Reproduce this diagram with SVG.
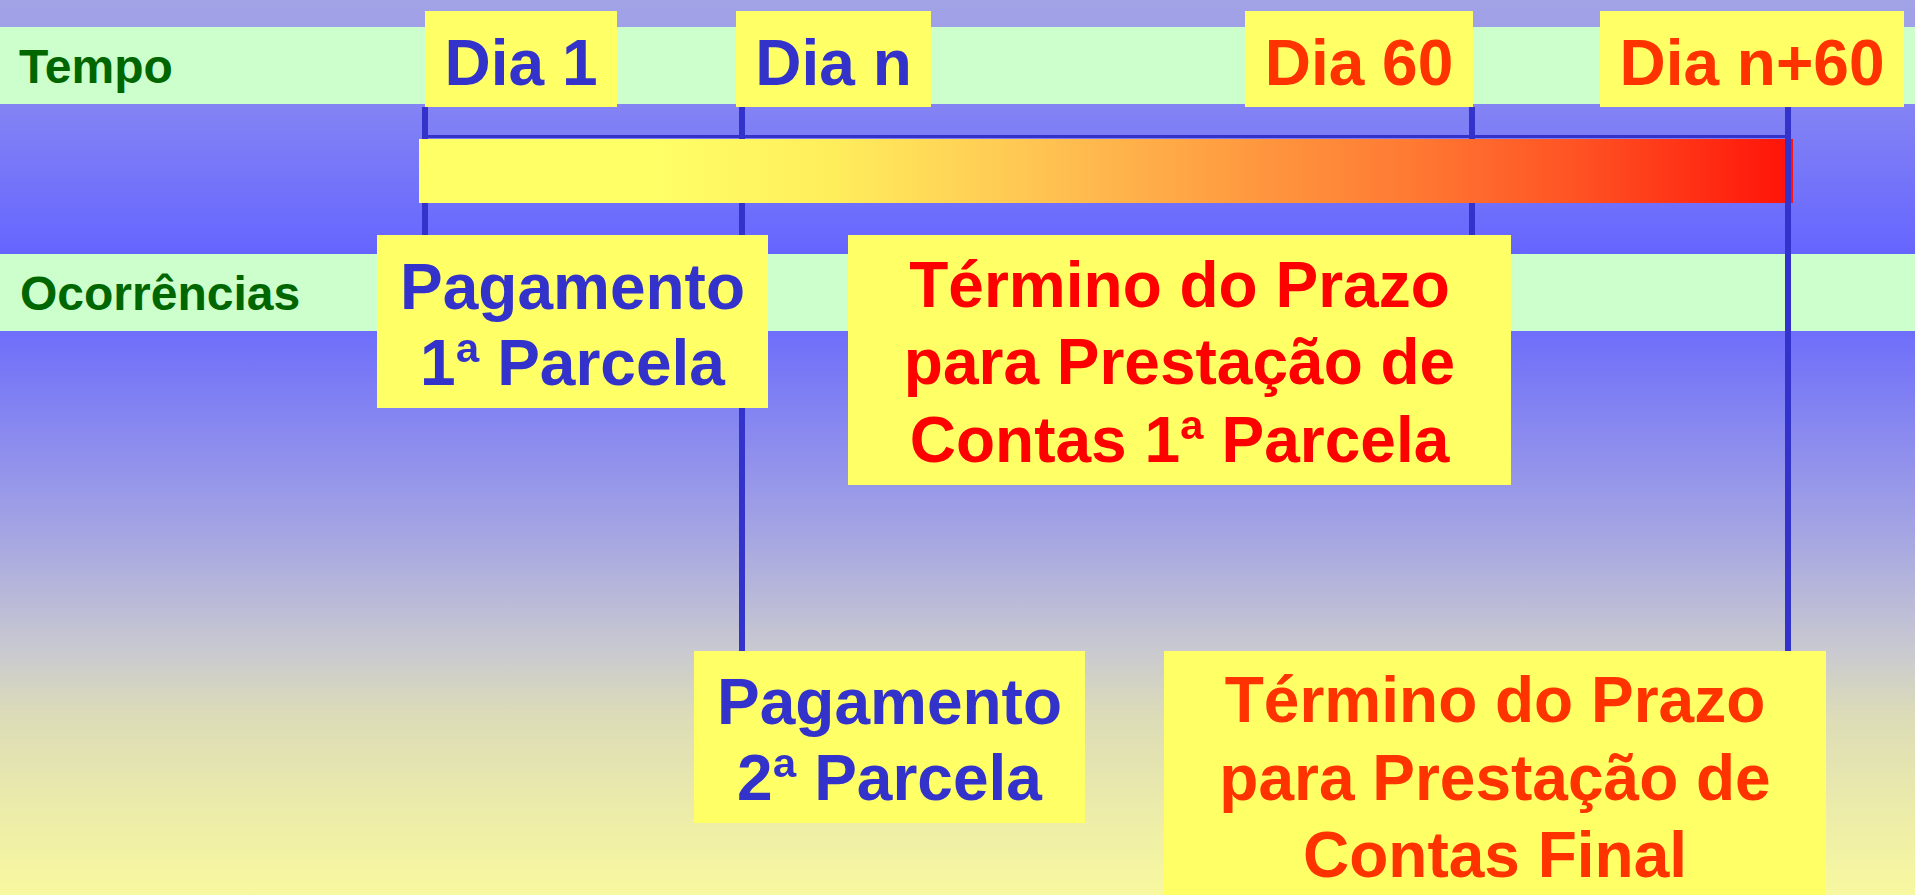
<svg xmlns="http://www.w3.org/2000/svg" width="1915" height="895" viewBox="0 0 1915 895">
<defs>
<linearGradient id="bg" gradientUnits="userSpaceOnUse" x1="0" y1="0" x2="0" y2="895">
<stop offset="0" stop-color="#a2a2e6"/>
<stop offset="0.03" stop-color="#a0a0e8"/>
<stop offset="0.12" stop-color="#8383f4"/>
<stop offset="0.28" stop-color="#6666ff"/>
<stop offset="0.37" stop-color="#6e6efb"/>
<stop offset="0.47" stop-color="#8686f1"/>
<stop offset="0.59" stop-color="#a3a3e4"/>
<stop offset="0.73" stop-color="#cacad0"/>
<stop offset="0.80" stop-color="#dcdcb8"/>
<stop offset="0.92" stop-color="#eeeea8"/>
<stop offset="1" stop-color="#f8f8a0"/>
</linearGradient>
<linearGradient id="bar" gradientUnits="userSpaceOnUse" x1="419" y1="0" x2="1793" y2="0">
<stop offset="0" stop-color="#ffff66"/>
<stop offset="0.17" stop-color="#ffff66"/>
<stop offset="0.30" stop-color="#ffee5c"/>
<stop offset="0.45" stop-color="#ffc452"/>
<stop offset="0.60" stop-color="#ff9a40"/>
<stop offset="0.72" stop-color="#ff7a33"/>
<stop offset="0.85" stop-color="#ff5022"/>
<stop offset="1" stop-color="#ff1208"/>
</linearGradient>
<style>
.band{fill:#ccffcc}
.box{fill:#ffff66}
.t{font-family:"Liberation Sans",Arial,sans-serif;font-weight:bold;text-anchor:middle}
.lbl{font-family:"Liberation Sans",Arial,sans-serif;font-weight:bold;font-size:48px;fill:#006600}
.blue{fill:#3333cc}
.red{fill:#ff0000}
.orange{fill:#ff3300}
.ln{stroke:#3333cc;stroke-width:6;fill:none}
</style>
</defs>
<rect x="0" y="0" width="1915" height="895" fill="url(#bg)"/>
<g id="rows">
<rect class="band" x="0" y="27" width="1915" height="77"/>
<rect class="band" x="0" y="254" width="1915" height="77"/>
<text class="lbl" x="19" y="83">Tempo</text>
<text class="lbl" x="20" y="310">Ocorrências</text>
</g>
<g id="connectors">
<line class="ln" x1="425" y1="107" x2="425" y2="235"/>
<line class="ln" x1="742" y1="107" x2="742" y2="651"/>
<line class="ln" x1="1472" y1="107" x2="1472" y2="235"/>
<line x1="425" y1="136.5" x2="1788" y2="136.5" stroke="#3333cc" stroke-width="3"/>
</g>
<g id="timeline-bar">
<rect x="419" y="139" width="1374" height="64" fill="url(#bar)"/>
</g>
<g id="connector-final">
<line class="ln" x1="1788" y1="107" x2="1788" y2="651"/>
</g>
<g id="dia1">
<rect class="box" x="425" y="11" width="192" height="96"/>
<text class="t blue" x="521" y="85" font-size="64">Dia 1</text>
</g>
<g id="dian">
<rect class="box" x="736" y="11" width="195" height="96"/>
<text class="t blue" x="833.5" y="85" font-size="64">Dia n</text>
</g>
<g id="dia60">
<rect class="box" x="1245" y="11" width="228" height="96"/>
<text class="t orange" x="1359" y="85" font-size="64">Dia 60</text>
</g>
<g id="dian60">
<rect class="box" x="1600" y="11" width="304" height="96"/>
<text class="t orange" x="1752" y="85" font-size="64">Dia n+60</text>
</g>
<g id="pagamento1">
<rect class="box" x="377" y="235" width="391" height="173"/>
<text class="t blue" x="572.5" font-size="64"><tspan x="572.5" y="309">Pagamento</tspan><tspan x="572.5" y="385">1ª Parcela</tspan></text>
</g>
<g id="termino1">
<rect class="box" x="848" y="235" width="663" height="250"/>
<text class="t red" x="1179.5" font-size="64"><tspan x="1179.5" y="307">Término do Prazo</tspan><tspan x="1179.5" y="384">para Prestação de</tspan><tspan x="1179.5" y="462">Contas 1ª Parcela</tspan></text>
</g>
<g id="pagamento2">
<rect class="box" x="694" y="651" width="391" height="172"/>
<text class="t blue" x="889.5" font-size="64"><tspan x="889.5" y="724">Pagamento</tspan><tspan x="889.5" y="800">2ª Parcela</tspan></text>
</g>
<g id="terminofinal">
<rect class="box" x="1164" y="651" width="662" height="250"/>
<text class="t orange" x="1495" font-size="64"><tspan x="1495" y="722">Término do Prazo</tspan><tspan x="1495" y="800">para Prestação de</tspan><tspan x="1495" y="877">Contas Final</tspan></text>
</g>
</svg>
